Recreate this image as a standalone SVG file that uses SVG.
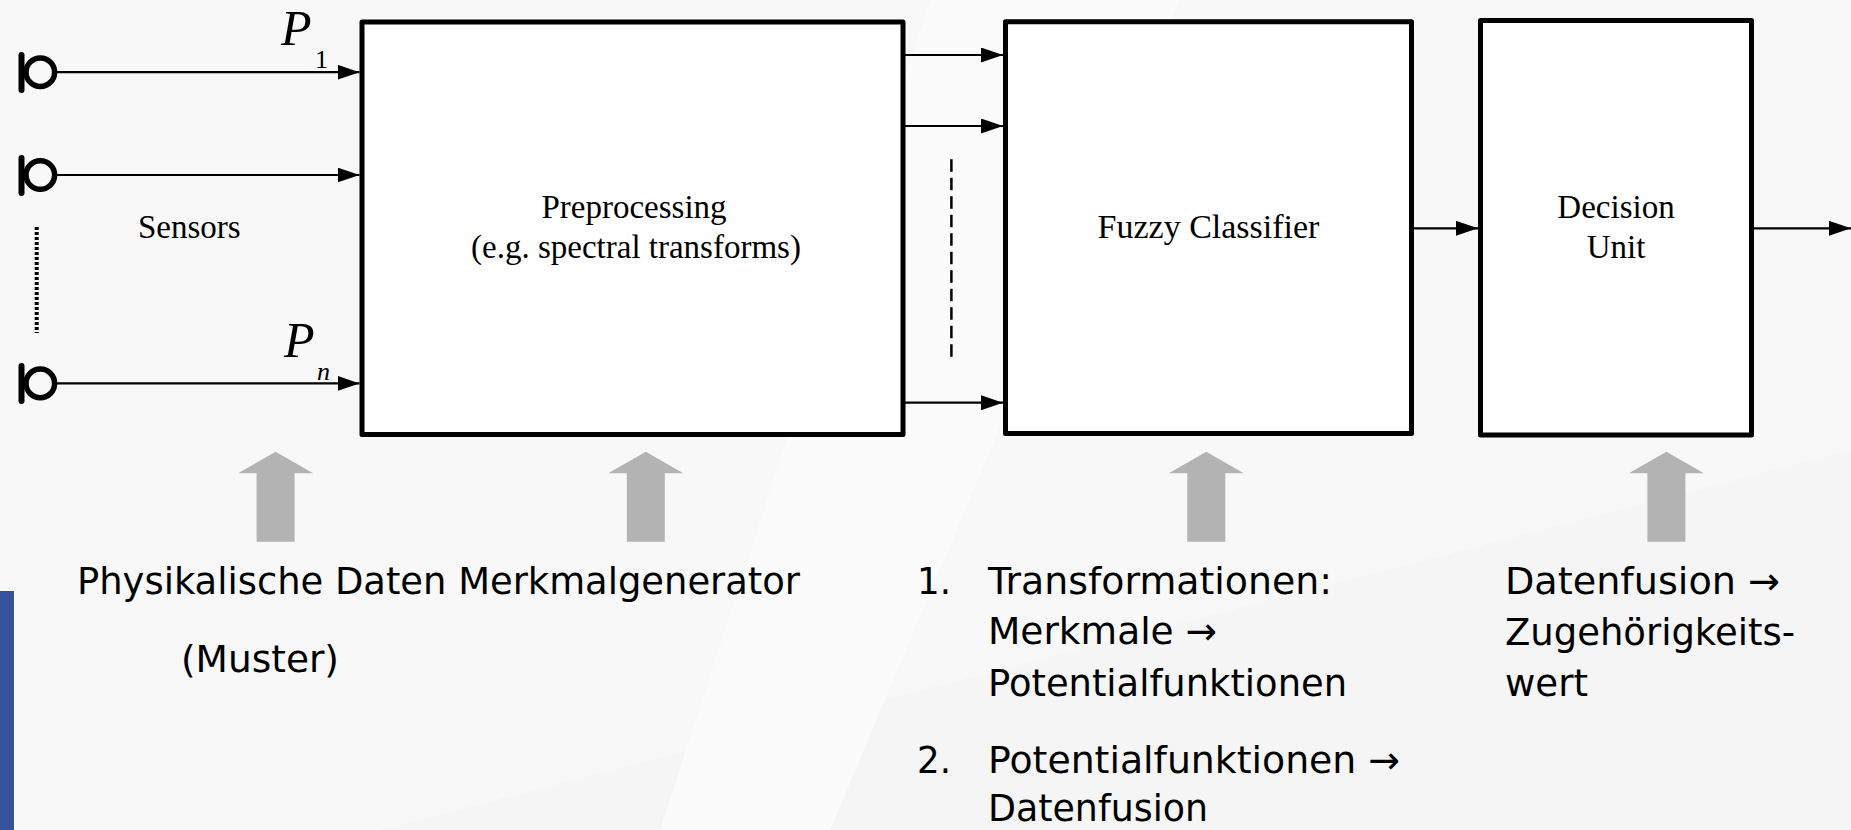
<svg xmlns="http://www.w3.org/2000/svg" width="1851" height="830" viewBox="0 0 1851 830">
  <style>
    .box { fill: #ffffff; stroke: #000000; stroke-width: 5; stroke-linejoin: round; }
    .conn { fill: none; stroke: #000000; stroke-width: 2.2; }
    .serif { font-family: "Liberation Serif", "Times New Roman", serif; fill: #000000; }
    .lbl { font-family: "DejaVu Sans", "Liberation Sans", sans-serif; font-size: 38px; fill: #000000; }
    .garrow { fill: #b3b3b3; }
    .sensor { fill: none; stroke: #000000; stroke-width: 5.5; }
    .sbar { stroke: #000000; stroke-width: 6; stroke-linecap: round; }
  </style>
  <defs>
    <marker id="ah" markerUnits="userSpaceOnUse" markerWidth="22" markerHeight="16" refX="22" refY="7.5" orient="auto">
      <path d="M0,0 L22,7.5 L0,15 Z" fill="#000000"/>
    </marker>
    <path id="grayArrow" d="M0,0 L37.5,21.5 L19,21.5 L19,90 L-19,90 L-19,21.5 L-37.5,21.5 Z"/>
  </defs>

  <!-- background -->
  <rect x="0" y="0" width="1851" height="830" fill="#f8f8f8"/>
  <polygon points="1851,450 1851,830 380,830" fill="#f5f5f5"/>
  <polygon points="930,0 1180,0 830,830 660,830" fill="#fbfbfb"/>
  <rect x="0" y="591" width="14" height="239" fill="#34539c"/>

  <!-- sensors -->
  <g id="sensor1">
    <line class="sbar" x1="21.5" y1="55" x2="21.5" y2="90"/>
    <circle class="sensor" cx="40.3" cy="72.2" r="14.3"/>
  </g>
  <g id="sensor2">
    <line class="sbar" x1="21.5" y1="158" x2="21.5" y2="193"/>
    <circle class="sensor" cx="40.3" cy="175" r="14.3"/>
  </g>
  <g id="sensor3">
    <line class="sbar" x1="21.5" y1="366" x2="21.5" y2="401"/>
    <circle class="sensor" cx="40.3" cy="383.4" r="14.3"/>
  </g>
  <g id="sensor-dots">
    <line x1="36.7" y1="227" x2="36.7" y2="333" stroke="#000000" stroke-width="4" stroke-dasharray="3 2"/>
  </g>
  <g id="sensors-label">
    <text class="serif" x="138" y="238" font-size="33">Sensors</text>
  </g>
  <g id="p-labels">
    <text class="serif" x="281" y="45" font-size="50" font-style="italic">P</text>
    <text class="serif" x="315" y="68" font-size="26">1</text>
    <text class="serif" x="284" y="357" font-size="50" font-style="italic">P</text>
    <text class="serif" x="317" y="380" font-size="26" font-style="italic">n</text>
  </g>

  <!-- blocks -->
  <g id="preprocessing">
    <rect class="box" x="362" y="22" width="541" height="412.5"/>
    <text class="serif" x="634" y="218" font-size="33" text-anchor="middle">Preprocessing</text>
    <text class="serif" x="636" y="258" font-size="33" text-anchor="middle">(e.g. spectral transforms)</text>
  </g>
  <g id="fuzzy-classifier">
    <rect class="box" x="1005.5" y="21.7" width="406" height="411.8"/>
    <text class="serif" x="1208.5" y="238" font-size="34" text-anchor="middle">Fuzzy Classifier</text>
  </g>
  <g id="decision-unit">
    <rect class="box" x="1480.5" y="20.5" width="271" height="414.5"/>
    <text class="serif" x="1616" y="218" font-size="33" text-anchor="middle">Decision</text>
    <text class="serif" x="1616" y="258" font-size="33" text-anchor="middle">Unit</text>
  </g>

  <!-- connectors -->
  <g id="connectors">
    <path class="conn" d="M57,72.2 L359.5,72.2" marker-end="url(#ah)"/>
    <path class="conn" d="M57,175 L359.5,175" marker-end="url(#ah)"/>
    <path class="conn" d="M57,383.4 L359.5,383.4" marker-end="url(#ah)"/>
    <path class="conn" d="M905,55 L1003,55" marker-end="url(#ah)"/>
    <path class="conn" d="M905,126 L1003,126" marker-end="url(#ah)"/>
    <path class="conn" d="M905,402.7 L1003,402.7" marker-end="url(#ah)"/>
    <path class="conn" d="M1414,228.3 L1478,228.3" marker-end="url(#ah)"/>
    <path class="conn" d="M1754,228.3 L1851,228.3" marker-end="url(#ah)"/>
    <line x1="951.4" y1="159.3" x2="951.4" y2="361.7" stroke="#000000" stroke-width="2.5" stroke-dasharray="12.5 6"/>
  </g>

  <!-- gray up arrows -->
  <g id="gray-arrows">
    <use href="#grayArrow" class="garrow" x="275.6" y="451.7"/>
    <use href="#grayArrow" class="garrow" x="645.8" y="451.7"/>
    <use href="#grayArrow" class="garrow" x="1206.3" y="451.7"/>
    <use href="#grayArrow" class="garrow" x="1666.4" y="451.7"/>
  </g>

  <!-- annotations -->
  <g id="label-physical">
    <text class="lbl" x="77" y="594" textLength="723" lengthAdjust="spacingAndGlyphs">Physikalische Daten Merkmalgenerator</text>
    <text class="lbl" x="181" y="672" textLength="158" lengthAdjust="spacingAndGlyphs">(Muster)</text>
  </g>
  <g id="label-fuzzy">
    <text class="lbl" x="917" y="594" textLength="34" lengthAdjust="spacingAndGlyphs">1.</text>
    <text class="lbl" x="988" y="594" textLength="344" lengthAdjust="spacingAndGlyphs">Transformationen:</text>
    <text class="lbl" x="988" y="644" textLength="229" lengthAdjust="spacingAndGlyphs">Merkmale →</text>
    <text class="lbl" x="988" y="696" textLength="359" lengthAdjust="spacingAndGlyphs">Potentialfunktionen</text>
    <text class="lbl" x="917" y="773" textLength="34" lengthAdjust="spacingAndGlyphs">2.</text>
    <text class="lbl" x="988" y="773" textLength="412" lengthAdjust="spacingAndGlyphs">Potentialfunktionen →</text>
    <text class="lbl" x="988" y="821" textLength="220" lengthAdjust="spacingAndGlyphs">Datenfusion</text>
  </g>
  <g id="label-decision">
    <text class="lbl" x="1505" y="594" textLength="275" lengthAdjust="spacingAndGlyphs">Datenfusion →</text>
    <text class="lbl" x="1505" y="645" textLength="290" lengthAdjust="spacingAndGlyphs">Zugehörigkeits-</text>
    <text class="lbl" x="1505" y="696" textLength="83" lengthAdjust="spacingAndGlyphs">wert</text>
  </g>
</svg>
